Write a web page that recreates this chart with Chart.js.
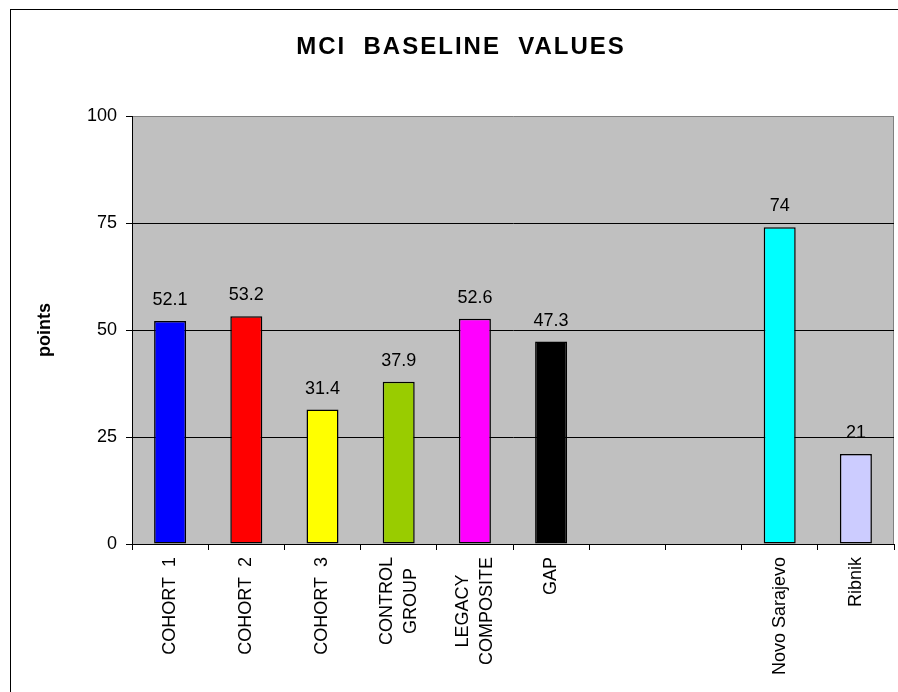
<!DOCTYPE html>
<html>
<head>
<meta charset="utf-8">
<script src="https://cdn.jsdelivr.net/npm/chart.js@4"></script>
<style>
  html, body { margin: 0; padding: 0; background: #fff; }
  #c { display: block; }
</style>
</head>
<body>
<canvas id="c" width="898" height="692"></canvas>
<script>
const categories = [
  ['COHORT  1'], ['COHORT  2'], ['COHORT  3'], ['CONTROL', 'GROUP'],
  ['LEGACY', 'COMPOSITE'], ['GAP'], [''], [''], ['Novo Sarajevo'], ['Ribnik']
];
const values = [52.1, 53.2, 31.4, 37.9, 52.6, 47.3, null, null, 74, 21];
const barColors = ['#0000ff', '#ff0000', '#ffff00', '#99cc00', '#ff00ff',
  '#000000', '#c0c0c0', '#c0c0c0', '#00ffff', '#ccccff'];
const yTicks = [0, 25, 50, 75, 100];

const FONT = "'Liberation Sans', Arial, sans-serif";
Chart.defaults.font.family = FONT;
Chart.defaults.color = '#000';

// page frame, plot background, title
const frame = {
  id: 'frame',
  beforeDraw(chart) {
    const { ctx, chartArea: a } = chart;
    ctx.save();
    ctx.fillStyle = '#fff';
    ctx.fillRect(0, 0, chart.width, chart.height);
    ctx.strokeStyle = '#000';
    ctx.lineWidth = 1;
    ctx.strokeRect(10.5, 9.5, 900, 700);
    ctx.fillStyle = '#c0c0c0';
    ctx.fillRect(a.left, a.top, a.right - a.left, a.bottom - a.top);
    ctx.strokeStyle = '#808080';
    ctx.beginPath();
    ctx.moveTo(Math.round(a.right) - 0.5, a.top);
    ctx.lineTo(Math.round(a.right) - 0.5, a.bottom);
    ctx.stroke();

    ctx.fillStyle = '#000';
    ctx.font = 'bold 24px ' + FONT;
    ctx.letterSpacing = '2px';
    ctx.textAlign = 'center';
    ctx.textBaseline = 'alphabetic';
    ctx.fillText('MCI  BASELINE  VALUES', 461, 54);
    ctx.restore();
  }
};

// value labels above bars + rotated category labels
const labels = {
  id: 'labels',
  afterDatasetsDraw(chart) {
    const { ctx } = chart;
    const meta = chart.getDatasetMeta(0);
    const xScale = chart.scales.x;
    ctx.save();
    ctx.fillStyle = '#000';
    ctx.font = '18px ' + FONT;
    ctx.textAlign = 'center';
    ctx.textBaseline = 'alphabetic';
    meta.data.forEach((bar, i) => {
      if (values[i] == null) return;
      ctx.fillText(String(values[i]), bar.x, bar.y - 16);
    });

    const lineH = 24;
    const top = xScale.top + 13;
    categories.forEach((lines, i) => {
      const cx = xScale.getPixelForValue(i);
      const w = Math.max(...lines.map(l => ctx.measureText(l).width));
      lines.forEach((line, j) => {
        const x = cx + (j - (lines.length - 1) / 2) * lineH;
        ctx.save();
        ctx.translate(x, top + w / 2);
        ctx.rotate(-Math.PI / 2);
        ctx.textBaseline = 'middle';
        ctx.fillText(line, 0, 0);
        ctx.restore();
      });
    });
    ctx.restore();
  }
};

new Chart(document.getElementById('c'), {
  type: 'bar',
  data: {
    labels: categories.map(c => c.join(' ')),
    datasets: [{
      data: values,
      backgroundColor: barColors,
      borderColor: '#000',
      borderWidth: 1.5,
      borderSkipped: false,
      categoryPercentage: 1,
      barPercentage: 0.42
    }]
  },
  options: {
    responsive: false,
    animation: false,
    layout: { padding: { left: 30, top: 116, right: 4, bottom: 0 } },
    plugins: { legend: { display: false }, title: { display: false }, tooltip: { enabled: false } },
    scales: {
      x: {
        afterFit(s) { s.height = 148; },
        grid: { offset: true, drawOnChartArea: false, tickLength: 6, color: '#000' },
        border: { color: '#000' },
        ticks: { display: false, autoSkip: false }
      },
      y: {
        min: 0,
        max: 100,
        afterFit(s) { s.width = 102; },
        afterBuildTicks(s) { s.ticks = yTicks.map(v => ({ value: v })); },
        grid: {
          tickLength: 6,
          tickColor: '#000',
          color: c => (c.tick && c.tick.value === 100 ? '#808080' : '#000')
        },
        border: { color: '#000' },
        ticks: { font: { size: 18 }, padding: 9, color: '#000' },
        title: {
          display: true,
          text: 'points',
          font: { size: 18, weight: 'bold' },
          padding: { top: 4, bottom: 0 }
        }
      }
    }
  },
  plugins: [frame, labels]
});
</script>
</body>
</html>
